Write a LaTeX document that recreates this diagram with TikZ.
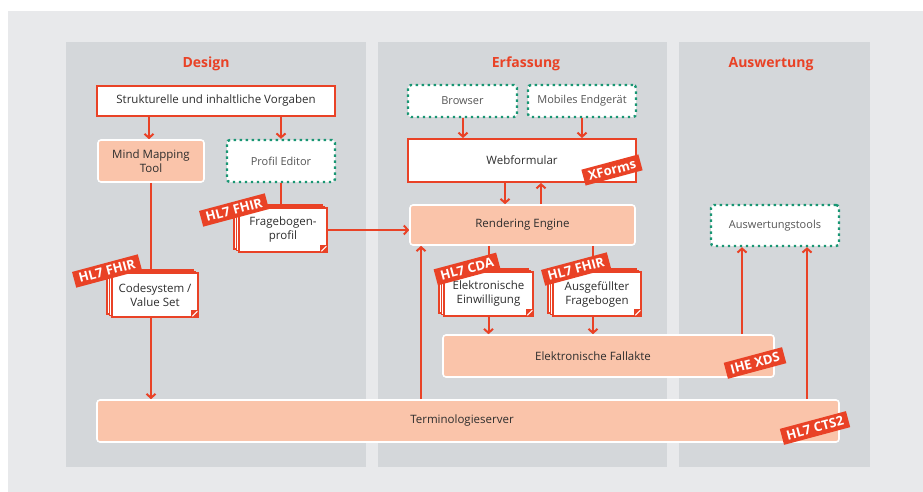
\documentclass[tikz,border=0pt]{standalone}
\usepackage{fontspec}
\setmainfont{Open Sans}
\usetikzlibrary{arrows.meta,calc}
\definecolor{fred}{RGB}{233,66,38}
\definecolor{salmon}{RGB}{250,196,170}
\definecolor{panelgray}{RGB}{212,215,218}
\definecolor{bggray}{RGB}{232,233,235}
\definecolor{dotgreen}{RGB}{25,150,115}
\definecolor{txt}{RGB}{45,45,45}
\definecolor{ltxt}{RGB}{85,85,85}
\tikzset{
  box/.style={draw=fred, line width=2pt, fill=white, text=txt, font=\fontsize{11.5}{13.5}\selectfont, align=center, inner sep=0pt},
  salm/.style={draw=white, line width=1.6pt, fill=salmon, rounded corners=3pt, text=txt, font=\fontsize{11.5}{13.5}\selectfont, align=center, inner sep=0pt},
  dotbox/.style={draw=dotgreen, line width=2.4pt, dash pattern=on 2.4pt off 3.6pt, fill=white, rounded corners=3pt, text=ltxt, font=\fontsize{11}{13}\selectfont, inner sep=0pt},
  doc/.style={draw=fred, line width=1.6pt, fill=white, text=txt, font=\fontsize{11.5}{14}\selectfont, align=center, inner sep=0pt, minimum height=44pt},
  docback/.style={draw=fred, line width=1.3pt, fill=white},
  tag/.style={fill=fred, text=white, font=\bfseries\fontsize{13}{15}\selectfont, inner xsep=5pt, inner ysep=3.5pt, rotate=15},
  title/.style={text=fred, font=\bfseries\fontsize{14}{16}\selectfont},
  conn/.style={draw=fred, line width=2pt},
  arr/.style={draw=fred, line width=2pt, -{Straight Barb[length=4pt,width=9pt,line width=2pt]}},
}
\newcommand{\docbox}[5]{%
  \draw[docback] ({#2-#4/2-5},{#3-22-3}) rectangle ({#2+#4/2-5},{#3+22-3});
  \draw[docback] ({#2-#4/2-2.5},{#3-22-1.5}) rectangle ({#2+#4/2-2.5},{#3+22-1.5});
  \node[doc, minimum width=#4] (#1) at (#2,#3) {#5};
  \fill[fred] ($(#1.south east)+(-8,-8)$) rectangle (#1.south east);
  \draw[white, line width=1pt] ($(#1.south east)+(-6.5,-1.5)$) -- ($(#1.south east)+(-1.5,-6.5)$);
}
\begin{document}
\begin{tikzpicture}[x=1pt, y=-1pt]
\useasboundingbox (0,0) rectangle (923,492);
\fill[white] (0,0) rectangle (923,492);
\fill[bggray] (8,11) rectangle (923,492);
% panels
\fill[panelgray] (66,42) rectangle (366,467);
\fill[panelgray] (378,42) rectangle (667,467);
\fill[panelgray] (679,42) rectangle (870,467);
\node[title] (tdesign) at (206,64) {Design};
\node[title] (terf) at (526,64) {Erfassung};
\node[title] (tausw) at (771,64) {Auswertung};

% nodes
\node[box, minimum width=238pt, minimum height=30pt] (strukt) at (216,101) {Strukturelle und inhaltliche Vorgaben};
\node[salm, minimum width=106pt, minimum height=42pt] (mind) at (151,161) {Mind Mapping\\Tool};
\node[dotbox, minimum width=108pt, minimum height=42pt] (profil) at (281,161) {Profil Editor};
\node[dotbox, minimum width=109pt, minimum height=32pt] (browser) at (462.5,101) {Browser};
\node[dotbox, minimum width=108pt, minimum height=32pt] (mobile) at (582,101) {Mobiles Endgerät};
\node[box, minimum width=228pt, minimum height=43pt] (webform) at (522,160.5) {Webformular};
\node[salm, minimum width=225pt, minimum height=40pt] (render) at (522.5,225) {Rendering Engine};
\node[salm, minimum width=331pt, minimum height=42pt] (fall) at (608.5,356) {\hspace*{-31pt}Elektronische Fallakte};
\node[salm, minimum width=742pt, minimum height=42pt] (term) at (468,421) {\hspace*{-12pt}Terminologieserver};
\node[dotbox, minimum width=128pt, minimum height=41pt] (ausw) at (775,225.5) {Auswertungstools};

% connectors beneath documents
\draw[arr] (strukt.south -| 149,0) -- (mind.north -| 149,0);
\draw[arr] (strukt.south -| profil.north) -- (profil.north);
\draw[arr] (mind.south) -- (mind.south |- term.north);
\coordinate (fragetop) at (281,208);
\draw[conn] (profil.south) -- (fragetop);
\coordinate (einwtop) at (488.5,272);
\coordinate (ausgtop) at (593,272);
\draw[conn] (render.south -| einwtop) -- (einwtop);
\draw[conn] (render.south -| ausgtop) -- (ausgtop);

% documents
\docbox{codes}{155}{295}{86}{Codesystem /\\Value Set}
\docbox{frage}{283}{230}{88}{Fragebogen-\\profil}
\docbox{einw}{488.5}{294}{89}{Elektronische\\Einwilligung}
\docbox{ausg}{597}{294}{88}{Ausgefüllter\\Fragebogen}

% other connectors
\draw[arr] (frage.east) -- (render.west |- frage.east);
\draw[arr] (browser.south -| 463,0) -- (webform.north -| 463,0);
\draw[arr] (mobile.south) -- (webform.north -| mobile.south);
\draw[arr] (webform.south -| 505,0) -- (render.north -| 505,0);
\draw[arr] (render.north -| 541,0) -- (webform.south -| 541,0);
\draw[arr] (term.north -| 421,0) -- (render.south -| 421,0);
\draw[arr] (einw.south -| einwtop) -- (fall.north -| einwtop);
\draw[arr] (ausg.south -| ausgtop) -- (fall.north -| ausgtop);
\draw[arr] (fall.north -| 742,0) -- (ausw.south -| 742,0);
\draw[arr] (term.north -| 807,0) -- (ausw.south -| 807,0);

% tags
\node[tag] (tagcodes) at (107,271) {HL7 FHIR};
\node[tag] (tagfrage) at (234,210) {HL7 FHIR};
\node[tag] (tageinw) at (467,269) {HL7 CDA};
\node[tag] (tagausg) at (576,269) {HL7 FHIR};
\node[tag] (tagxf) at (612,170) {XForms};
\node[tag] (tagxds) at (755,363) {IHE XDS};
\node[tag] (tagcts) at (815,428) {HL7 CTS2};
\end{tikzpicture}
\end{document}
